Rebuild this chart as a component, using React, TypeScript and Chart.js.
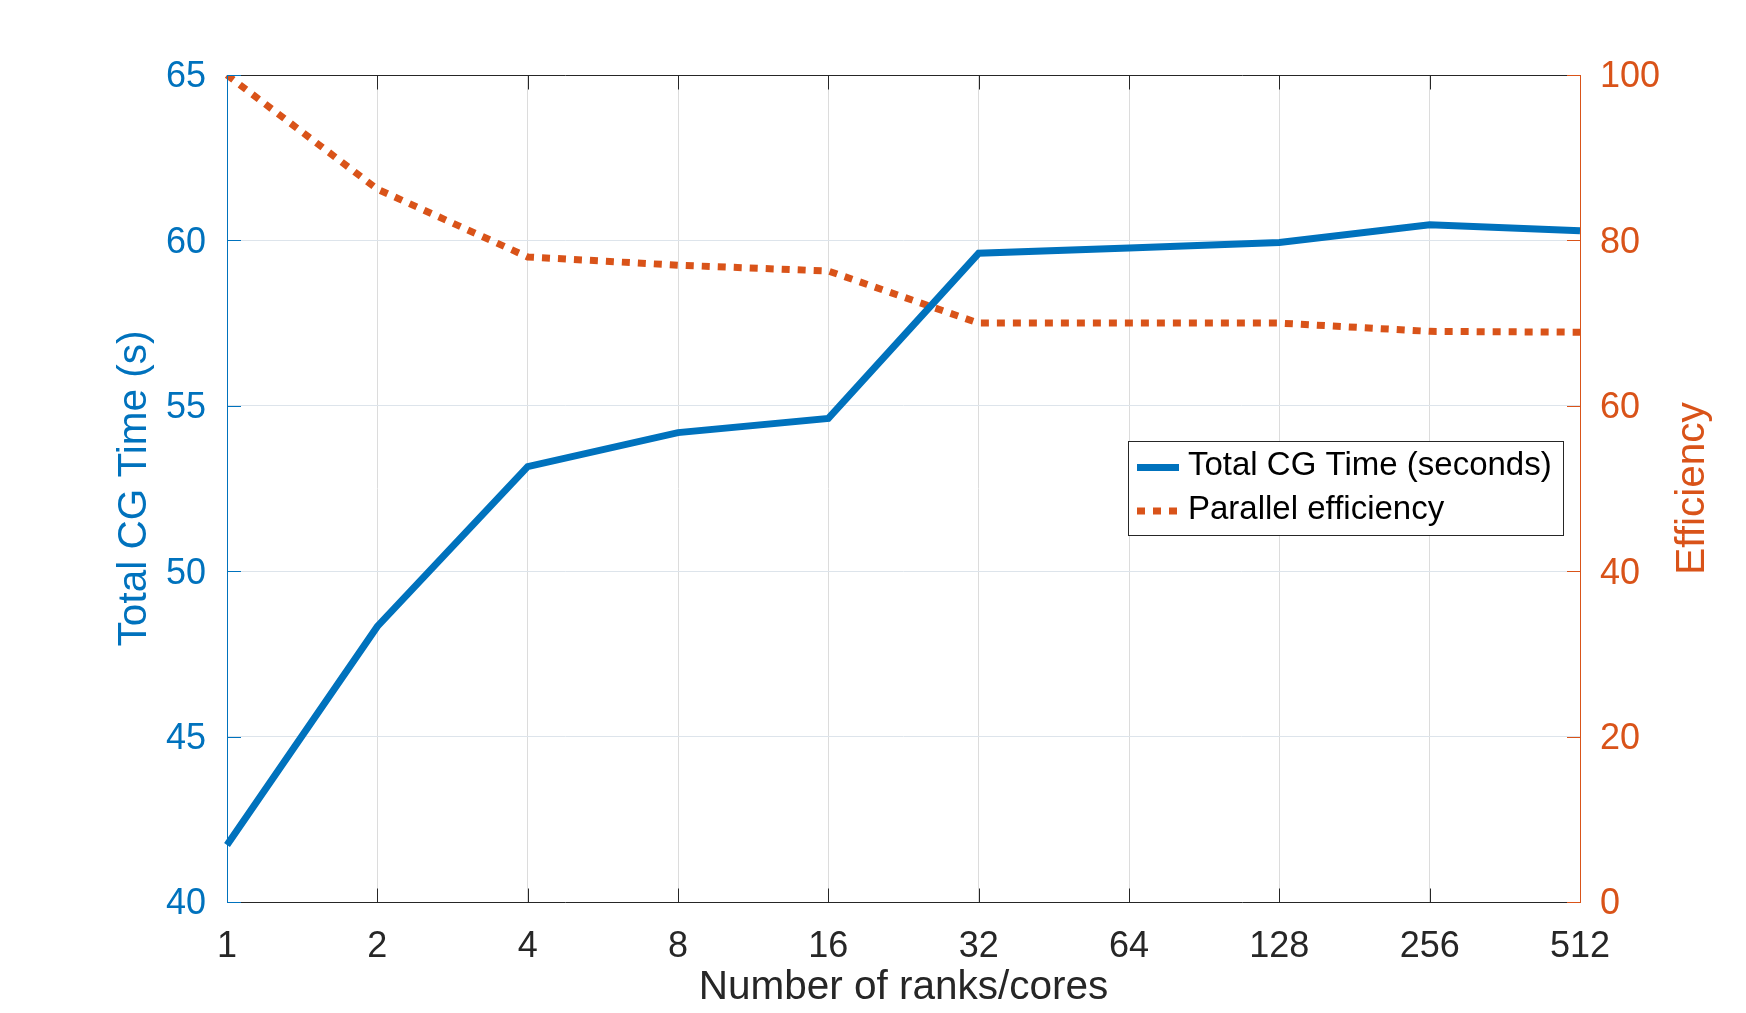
import React, { useEffect, useRef } from "react";
import { Chart, registerables } from "chart.js";

Chart.register(...registerables);

const categories = ["1", "2", "4", "8", "16", "32", "64", "128", "256", "512"];
const cgTime = [41.72, 48.33, 53.16, 54.19, 54.62, 59.61, 59.77, 59.94, 60.47, 60.29];
const efficiency = [100, 86.2, 78.0, 77.0, 76.3, 70.0, 70.0, 70.0, 69.0, 68.9];
const leftTicks = [40, 45, 50, 55, 60, 65];
const rightTicks = [0, 20, 40, 60, 80, 100];
const seriesNames = ["Total CG Time (seconds)", "Parallel efficiency"];
const xTitle = "Number of ranks/cores";
const yLeftTitle = "Total CG Time (s)";
const yRightTitle = "Efficiency";

const W = 1746;
const H = 1013;
const BLUE = "#0072BD";
const ORANGE = "#D95319";
const DARK = "#262626";
const FONT = "'Liberation Sans', Arial, Helvetica, sans-serif";
const TICK_SIZE = 36;
const TITLE_SIZE = 40.5;
const LEGEND_SIZE = 33;

const shiftPlugin = {
  id: "shiftLabels",
  beforeDraw(chart: any) {
    ["y", "y1"].forEach((id) => {
      const s = chart.scales[id];
      const items = s.getLabelItems(chart.chartArea);
      items.forEach((it: any) => {
        if (!it._shifted) {
          it.textOffset += 2.5;
          it._shifted = true;
        }
      });
    });
  },
};

const decorPlugin = {
  id: "decor",
  afterDraw(chart: any) {
    const ctx = chart.ctx;
    const { left, right, top, bottom } = chart.chartArea;
    const xs = chart.scales.x;
    const yl = chart.scales.y;
    const yr = chart.scales.y1;
    ctx.save();
    ctx.lineWidth = 1;
    ctx.setLineDash([]);
    const line = (x1: number, y1: number, x2: number, y2: number, c: string) => {
      ctx.strokeStyle = c;
      ctx.beginPath();
      ctx.moveTo(x1, y1);
      ctx.lineTo(x2, y2);
      ctx.stroke();
    };
    const T = top + 0.5;
    const B = bottom + 0.5;
    const L = left + 0.5;
    const R = right + 0.5;
    line(left, T, right + 1, T, DARK);
    line(left, B, right + 1, B, DARK);
    categories.forEach((_, i) => {
      const x = Math.round(xs.getPixelForValue(i)) + 0.5;
      line(x, B, x, B - 14, DARK);
      line(x, T, x, T + 14, DARK);
    });
    line(L, top, L, bottom + 1, BLUE);
    line(R, top, R, bottom + 1, ORANGE);
    leftTicks.forEach((v) => {
      const y = Math.round(yl.getPixelForValue(v)) + 0.5;
      line(left, y, left + 14, y, BLUE);
    });
    rightTicks.forEach((v) => {
      const y = Math.round(yr.getPixelForValue(v)) + 0.5;
      line(right - 13, y, right + 1, y, ORANGE);
    });

    // right axis title (reads bottom-to-top)
    ctx.save();
    ctx.fillStyle = ORANGE;
    ctx.font = `${TITLE_SIZE}px ${FONT}`;
    ctx.textAlign = "center";
    ctx.textBaseline = "alphabetic";
    ctx.translate(1704, (top + bottom) / 2);
    ctx.rotate(-Math.PI / 2);
    ctx.fillText(yRightTitle, 0, 0);
    ctx.restore();

    // legend
    const bx = 1128.5, by = 441.5, bw = 435, bh = 94;
    ctx.fillStyle = "#ffffff";
    ctx.fillRect(bx, by, bw, bh);
    ctx.strokeStyle = DARK;
    ctx.lineWidth = 1;
    ctx.strokeRect(bx, by, bw, bh);
    ctx.lineCap = "butt";
    ctx.lineWidth = 7;
    ctx.strokeStyle = BLUE;
    ctx.beginPath();
    ctx.moveTo(1137, 467.5);
    ctx.lineTo(1179, 467.5);
    ctx.stroke();
    ctx.strokeStyle = ORANGE;
    ctx.setLineDash([8, 8]);
    ctx.beginPath();
    ctx.moveTo(1137, 511);
    ctx.lineTo(1179, 511);
    ctx.stroke();
    ctx.setLineDash([]);
    ctx.fillStyle = "#000000";
    ctx.font = `${LEGEND_SIZE}px ${FONT}`;
    ctx.textAlign = "left";
    ctx.textBaseline = "alphabetic";
    ctx.fillText(seriesNames[0], 1188, 475);
    ctx.fillText(seriesNames[1], 1188, 519);
    ctx.restore();
  },
};

export default function App() {
  const ref = useRef<HTMLCanvasElement | null>(null);
  useEffect(() => {
    if (!ref.current) return;
    const chart = new Chart(ref.current, {
      type: "line",
      data: {
        labels: categories,
        datasets: [
          {
            label: seriesNames[0],
            data: cgTime,
            yAxisID: "y",
            borderColor: BLUE,
            backgroundColor: BLUE,
            borderWidth: 7,
            pointRadius: 0,
            tension: 0,
            fill: false,
          },
          {
            label: seriesNames[1],
            data: efficiency,
            yAxisID: "y1",
            borderColor: ORANGE,
            backgroundColor: ORANGE,
            borderWidth: 7,
            borderDash: [8, 8],
            borderCapStyle: "butt",
            pointRadius: 0,
            tension: 0,
            fill: false,
          },
        ],
      },
      options: {
        responsive: false,
        animation: false,
        devicePixelRatio: 1,
        layout: { padding: { top: 75, left: 0, right: 0, bottom: 0 } },
        plugins: {
          legend: { display: false },
          tooltip: { enabled: false },
        },
        scales: {
          x: {
            type: "category",
            offset: false,
            position: "bottom",
            grid: { color: "#dcdcdc", lineWidth: 1, drawTicks: false },
            border: { display: false },
            ticks: {
              color: DARK,
              font: { family: FONT, size: TICK_SIZE },
              padding: 23,
              maxRotation: 0,
              autoSkip: false,
            },
            title: {
              display: true,
              text: xTitle,
              color: DARK,
              font: { family: FONT, size: TITLE_SIZE },
              padding: { top: 0, bottom: 1 },
            },
            afterFit: (s: any) => {
              s.height = 111;
            },
          },
          y: {
            position: "left",
            min: 40,
            max: 65,
            afterBuildTicks: (s: any) => {
              s.ticks = leftTicks.map((v) => ({ value: v }));
            },
            grid: { color: "#dde4eb", lineWidth: 1, drawTicks: false },
            border: { display: false },
            ticks: { color: BLUE, font: { family: FONT, size: TICK_SIZE }, padding: 21 },
            title: {
              display: true,
              text: yLeftTitle,
              color: BLUE,
              font: { family: FONT, size: TITLE_SIZE },
              padding: { top: 111, bottom: 0 },
            },
            afterFit: (s: any) => {
              s.width = 227;
            },
          },
          y1: {
            position: "right",
            min: 0,
            max: 100,
            afterBuildTicks: (s: any) => {
              s.ticks = rightTicks.map((v) => ({ value: v }));
            },
            grid: { display: false, drawTicks: false },
            border: { display: false },
            ticks: { color: ORANGE, font: { family: FONT, size: TICK_SIZE }, padding: 20 },
            afterFit: (s: any) => {
              s.width = 166;
            },
          },
        },
      },
      plugins: [shiftPlugin, decorPlugin],
    } as any);
    return () => chart.destroy();
  }, []);
  return (
    <div style={{ position: "fixed", left: 0, top: 0, width: W, height: H, background: "#ffffff" }}>
      <canvas ref={ref} width={W} height={H} style={{ display: "block" }} />
    </div>
  );
}
